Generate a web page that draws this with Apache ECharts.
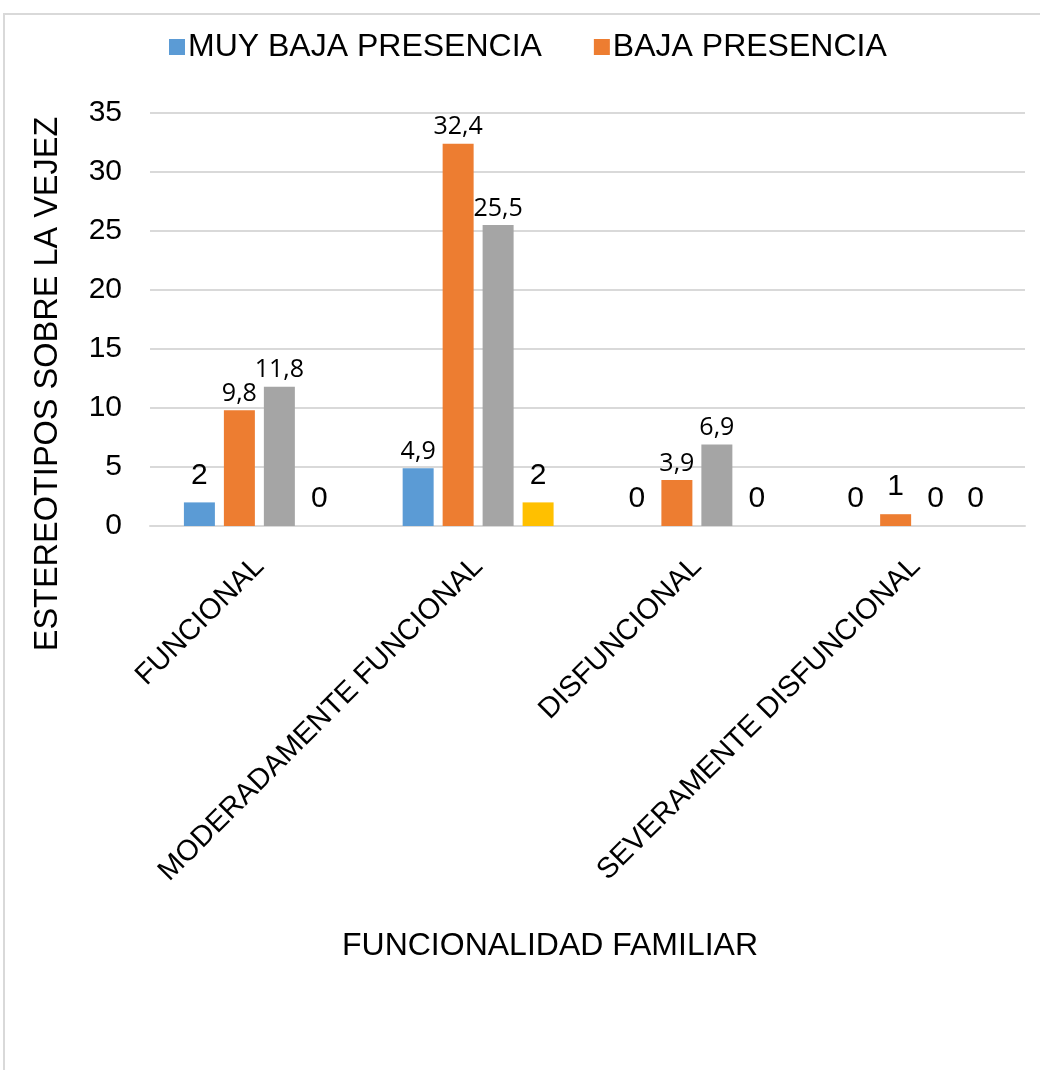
<!DOCTYPE html>
<html>
<head>
<meta charset="utf-8">
<script src="https://cdn.jsdelivr.net/npm/echarts@6/dist/echarts.min.js"></script>
<style>
  html, body { margin: 0; padding: 0; background: #fff; }
  #chart { width: 1040px; height: 1070px; }
</style>
</head>
<body>
<div id="chart"></div>
<script>
// categorias del eje x
const categories = ['FUNCIONAL', 'MODERADAMENTE FUNCIONAL', 'DISFUNCIONAL', 'SEVERAMENTE DISFUNCIONAL'];
// series (valores en %)
const seriesNames = ['MUY BAJA PRESENCIA', 'BAJA PRESENCIA', 'MODERADA PRESENCIA', 'ALTA PRESENCIA'];
const muyBaja = [2, 4.9, 0, 0];
const baja = [9.8, 32.4, 3.9, 1];
const moderada = [11.8, 25.5, 6.9, 0];
const alta = [0, 2, 0, 0];
const yTicks = [0, 5, 10, 15, 20, 25, 30, 35];

const colors = ['#5b9bd5', '#ed7d31', '#a5a5a5', '#ffc000'];
const values = [muyBaja, baja, moderada, alta];

// enteros en Arial grande, decimales en fuente tipo Calibri
const toItem = (v) => {
  const isInt = Number.isInteger(v);
  return {
    value: v,
    label: isInt
      ? { fontFamily: 'Liberation Sans, Arial', fontSize: 30, distance: 12 }
      : { fontFamily: 'Open Sans', fontSize: 25, distance: 4 }
  };
};

const chart = echarts.init(document.getElementById('chart'));

chart.setOption({
  animation: false,
  backgroundColor: '#fff',
  color: colors,
  legend: {
    data: seriesNames.slice(0, 2),
    left: 164,
    top: 26,
    itemWidth: 16,
    itemHeight: 16,
    itemGap: 52,
    icon: 'rect',
    textStyle: { fontFamily: 'Liberation Sans, Arial', fontSize: 32, color: '#000', padding: [0, 0, 0, -2] }
  },
  grid: { left: 150, right: 15, top: 113, bottom: 544 },
  xAxis: {
    type: 'category',
    data: categories,
    axisLine: { lineStyle: { color: '#d9d9d9', width: 2 } },
    axisTick: { show: false },
    axisLabel: {
      interval: 0,
      rotate: 45,
      margin: 36,
      fontFamily: 'Liberation Sans, Arial',
      fontSize: 29,
      color: '#000'
    }
  },
  yAxis: {
    type: 'value',
    min: yTicks[0],
    max: yTicks[yTicks.length - 1],
    interval: 5,
    axisLine: { show: false },
    axisTick: { show: false },
    splitLine: { lineStyle: { color: '#d9d9d9', width: 2 } },
    axisLabel: {
      margin: 28,
      fontFamily: 'Liberation Sans, Arial',
      fontSize: 30,
      color: '#000'
    }
  },
  series: values.map((vals, i) => ({
    name: seriesNames[i],
    type: 'bar',
    barGap: '29%',
    barCategoryGap: '31%',
    data: vals.map(toItem),
    itemStyle: { color: colors[i] },
    label: {
      show: true,
      position: 'top',
      color: '#000',
      formatter: (p) => String(p.value).replace('.', ',')
    }
  })),
  graphic: [
    {
      type: 'rect',
      shape: { x: 4, y: 14, width: 1100, height: 1100 },
      style: { fill: 'none', stroke: '#d9d9d9', lineWidth: 2 },
      silent: true,
      z: -1
    },
    {
      type: 'text',
      x: 48,
      y: 384,
      rotation: Math.PI / 2,
      style: {
        text: 'ESTEREOTIPOS SOBRE LA VEJEZ',
        fontFamily: 'Liberation Sans, Arial',
        fontSize: 32.5,
        fill: '#000',
        align: 'center',
        verticalAlign: 'middle'
      }
    },
    {
      type: 'text',
      x: 550,
      y: 946,
      style: {
        text: 'FUNCIONALIDAD FAMILIAR',
        fontFamily: 'Liberation Sans, Arial',
        fontSize: 32,
        fill: '#000',
        align: 'center',
        verticalAlign: 'middle'
      }
    }
  ]
});
</script>
</body>
</html>
